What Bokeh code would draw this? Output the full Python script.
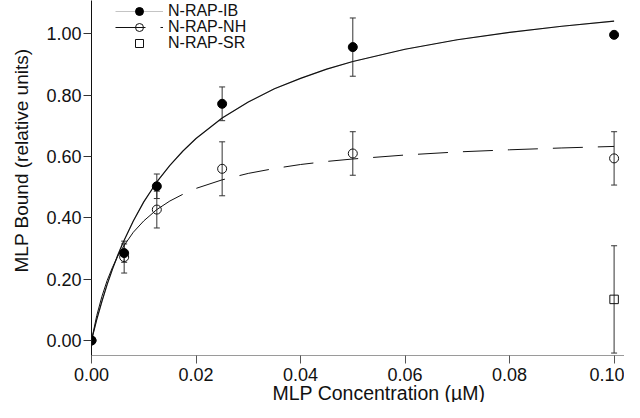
from bokeh.plotting import figure
from bokeh.models import (Range1d, FixedTicker, PrintfTickFormatter, Whisker, TeeHead,
                          ColumnDataSource, Legend, LegendItem, Title)
from bokeh.embed import file_html
from bokeh.resources import INLINE

# ---- data ----
conc = [0.0, 0.00625, 0.0125, 0.025, 0.05, 0.10]
ib_mean = [0.0, 0.285, 0.503, 0.772, 0.957, 0.997]
ib_err = [0.0, 0.030, 0.040, 0.055, 0.095, 0.0]
nh_mean = [0.0, 0.272, 0.427, 0.560, 0.610, 0.594]
nh_err = [0.0, 0.052, 0.060, 0.088, 0.071, 0.087]
sr_conc = [0.10]
sr_mean = [0.134]
sr_err = [0.175]

# fitted curves, values
fit_x = [0.0, 0.001, 0.002, 0.003, 0.004, 0.005, 0.006, 0.008, 0.010, 0.0125, 0.015,
         0.0175, 0.020, 0.025, 0.030, 0.035, 0.040, 0.045, 0.050, 0.060, 0.070,
         0.080, 0.090, 0.100]
ib_fit = [0.0, 0.068, 0.128, 0.183, 0.232, 0.277, 0.318, 0.390, 0.452, 0.517, 0.571,
          0.618, 0.659, 0.726, 0.778, 0.821, 0.855, 0.885, 0.910, 0.950, 0.981,
          1.005, 1.025, 1.042]
nh_fit = [0.0, 0.081, 0.144, 0.196, 0.238, 0.274, 0.304, 0.353, 0.390, 0.427, 0.455,
          0.477, 0.496, 0.524, 0.545, 0.561, 0.574, 0.584, 0.592, 0.605, 0.615,
          0.622, 0.628, 0.633]

x_ticks = [0.0, 0.02, 0.04, 0.06, 0.08, 0.10]
y_ticks = [0.0, 0.2, 0.4, 0.6, 0.8, 1.0]
labels = ["N-RAP-IB", "N-RAP-NH", "N-RAP-SR"]
x_title = "MLP Concentration (µM)"
y_title = "MLP Bound (relative units)"

FONT = "Liberation Sans"
TXT = "#111111"

p = figure(width=624, height=402, output_backend="svg", toolbar_location=None,
           x_range=Range1d(0, 0.10199), y_range=Range1d(-0.049, 1.109),
           min_border_left=91, min_border_right=0, min_border_top=0, min_border_bottom=47)
p.background_fill_color = "white"
p.border_fill_color = "white"
p.outline_line_color = None
p.xgrid.visible = False
p.ygrid.visible = False

# axes
p.xaxis.ticker = FixedTicker(ticks=x_ticks, minor_ticks=[])
p.yaxis.ticker = FixedTicker(ticks=y_ticks, minor_ticks=[])
p.xaxis.formatter = PrintfTickFormatter(format="%.2f")
p.yaxis.formatter = PrintfTickFormatter(format="%.2f")
for ax in (p.xaxis, p.yaxis):
    ax.major_tick_out = 8
    ax.major_tick_in = 0
    ax.minor_tick_out = 0
    ax.minor_tick_in = 0
    ax.major_label_text_font = FONT
    ax.major_label_text_font_size = "18px"
    ax.major_label_text_color = TXT
p.xaxis.axis_line_color = "#9a9a9a"
p.xaxis.major_tick_line_color = "#555555"
p.yaxis.axis_line_color = "#111111"
p.yaxis.major_tick_line_color = "#333333"
p.yaxis.major_label_standoff = 2
p.xaxis.major_label_standoff = 4

# axis titles
p.add_layout(Title(text=x_title, align="left", offset=181, vertical_align="bottom",
                   standoff=-8, text_font=FONT, text_font_size="19.5px",
                   text_font_style="normal", text_color=TXT), "below")
p.add_layout(Title(text=y_title, align="left", offset=83, vertical_align="top",
                   standoff=20, text_font=FONT, text_font_size="19px",
                   text_font_style="normal", text_color=TXT), "left")

# error bars
def whisk(xs, ms, es):
    xx, up, lo = [], [], []
    for x, m, e in zip(xs, ms, es):
        if e > 0:
            xx.append(x); up.append(m + e); lo.append(m - e)
    src = ColumnDataSource(dict(x=xx, upper=up, lower=lo))
    w = Whisker(base="x", upper="upper", lower="lower", source=src, dimension="height",
                line_color="#333333", line_width=1,
                upper_head=TeeHead(size=6, line_color="#333333", line_width=1),
                lower_head=TeeHead(size=6, line_color="#333333", line_width=1))
    p.add_layout(w)

whisk(conc, nh_mean, nh_err)
whisk(conc, ib_mean, ib_err)
whisk(sr_conc, sr_mean, sr_err)

# curves (a light copy underneath the IB fit supplies its legend line)
ib_leg_line = p.line(fit_x, ib_fit, line_color="#c4c4c4", line_width=1.0)
p.line(fit_x, ib_fit, line_color="#111111", line_width=1.2)
solid_idx = [i for i, x in enumerate(fit_x) if x <= 0.0125]
dash_idx = [i for i, x in enumerate(fit_x) if x >= 0.0125]
p.line([fit_x[i] for i in solid_idx], [nh_fit[i] for i in solid_idx],
       line_color="#111111", line_width=1.0)
nh_dash = p.line([fit_x[i] for i in dash_idx], [nh_fit[i] for i in dash_idx],
                 line_color="#111111", line_width=1.0, line_dash="30 15")

# points
nh_pts = p.scatter(conc, nh_mean, marker="circle", size=9, fill_alpha=0,
                   line_color="#111111", line_width=1)
sr_pts = p.scatter(sr_conc, sr_mean, marker="square", size=8.5, fill_alpha=0,
                   line_color="#111111", line_width=1)
ib_pts = p.scatter(conc, ib_mean, marker="circle", size=9, fill_color="black",
                   line_color="black")

# legend: one box per row so each row sits where the reference puts it
rows = [(labels[0], [ib_leg_line, ib_pts], 334),
        (labels[1], [nh_dash, nh_pts], 318),
        (labels[2], [sr_pts], 302)]
for lab, rends, ypos in rows:
    lg = Legend(items=[LegendItem(label=lab, renderers=rends)],
                location=(24, ypos), orientation="vertical",
                glyph_width=48, glyph_height=20, label_height=20, spacing=0,
                padding=0, margin=0, label_standoff=5,
                border_line_color=None, background_fill_alpha=0,
                label_text_font=FONT, label_text_font_size="16px",
                label_text_color=TXT)
    p.add_layout(lg)

open("out.html", "w").write(file_html(p, INLINE))
